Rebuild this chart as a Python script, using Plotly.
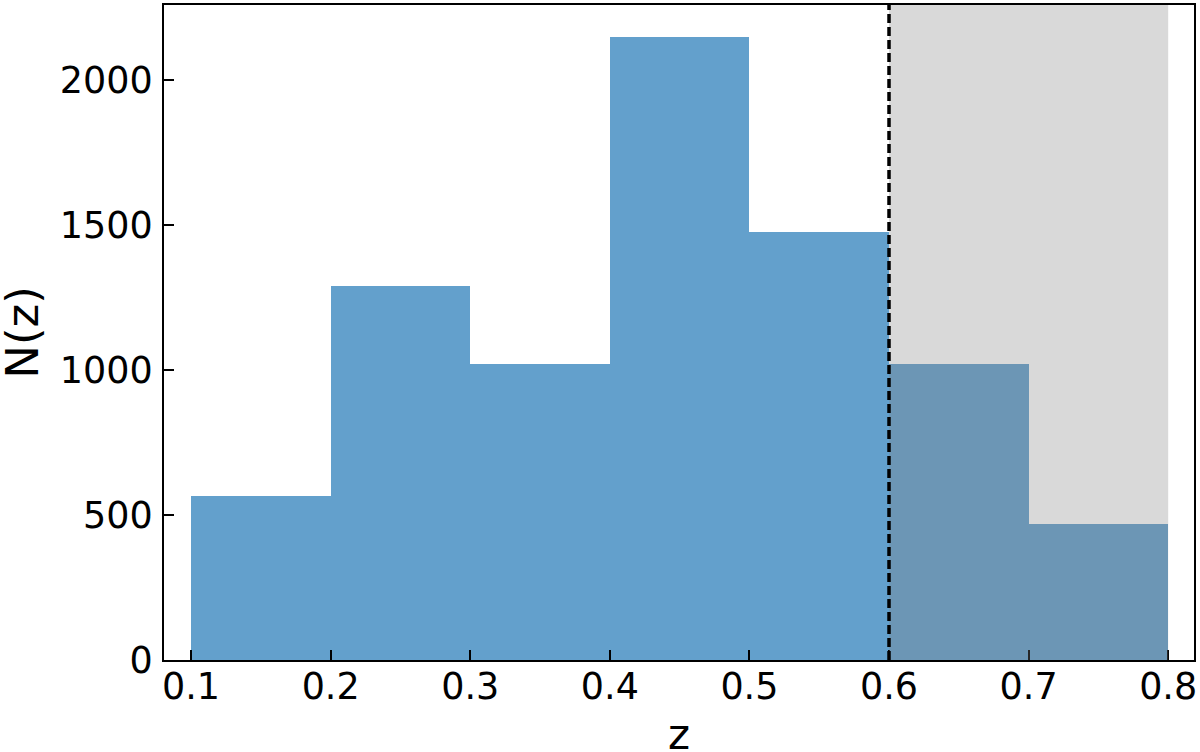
import plotly.graph_objects as go

# Data
bin_left = [0.1, 0.2, 0.3, 0.4, 0.5, 0.6, 0.7]
bin_width = 0.1
counts = [566, 1288, 1021, 2149, 1476, 1021, 468]
x_ticks = [0.1, 0.2, 0.3, 0.4, 0.5, 0.6, 0.7, 0.8]
y_ticks = [0, 500, 1000, 1500, 2000]
z_cut = 0.6
z_max = 0.8
x_title = "z"
y_title = "N(z)"

centers = [b + bin_width / 2 for b in bin_left]

fig = go.Figure()
fig.add_trace(go.Bar(
    x=centers, y=counts, width=[bin_width] * len(counts),
    marker=dict(color="rgb(99,160,204)", line=dict(width=0)),
    hoverinfo="x+y", showlegend=False,
))

# shaded excluded region
fig.add_shape(type="rect", xref="x", yref="y domain", x0=z_cut, x1=z_max, y0=0, y1=1,
              fillcolor="rgba(128,128,128,0.3)", line=dict(width=0), layer="above")
# dashed cut line
fig.add_shape(type="line", xref="x", yref="y domain", x0=z_cut, x1=z_cut, y0=0, y1=1,
              line=dict(color="black", width=3.5, dash="9px,4px"), layer="above")

font_family = "DejaVu Sans"
fig.update_layout(
    width=1200, height=752,
    margin=dict(l=164, r=5, t=3, b=92),
    paper_bgcolor="white", plot_bgcolor="white",
    font=dict(family=font_family, color="black", size=36),
    bargap=0,
)
axis_common = dict(
    showline=True, linecolor="black", linewidth=2, mirror=True,
    ticks="inside", ticklen=10, tickwidth=2, tickcolor="black",
    showgrid=False, zeroline=False,
    tickfont=dict(family=font_family, size=36.5, color="black"),
)
fig.update_xaxes(
    range=[0.0806, 0.8185], tickvals=x_ticks, ticktext=[f"{v:.1f}" for v in x_ticks],
    ticklabelstandoff=-7,
    **axis_common,
)
fig.update_yaxes(
    range=[0, 2258], tickvals=y_ticks, ticktext=[str(v) for v in y_ticks],
    ticklabelstandoff=2,
    **axis_common,
)

# axis titles as annotations for precise placement
fig.add_annotation(text=x_title, xref="paper", yref="paper", x=0.5, y=-0.114,
                   xanchor="center", yanchor="middle", showarrow=False,
                   font=dict(family=font_family, size=42, color="black"))
fig.add_annotation(text=y_title, xref="paper", yref="paper", x=-0.1377, y=0.5,
                   xanchor="center", yanchor="middle", showarrow=False, textangle=-90,
                   font=dict(family=font_family, size=45, color="black"))

fig.write_html("out.html", config={"displayModeBar": False},
               post_script="document.body.style.margin='0';document.body.style.overflow='hidden';")
